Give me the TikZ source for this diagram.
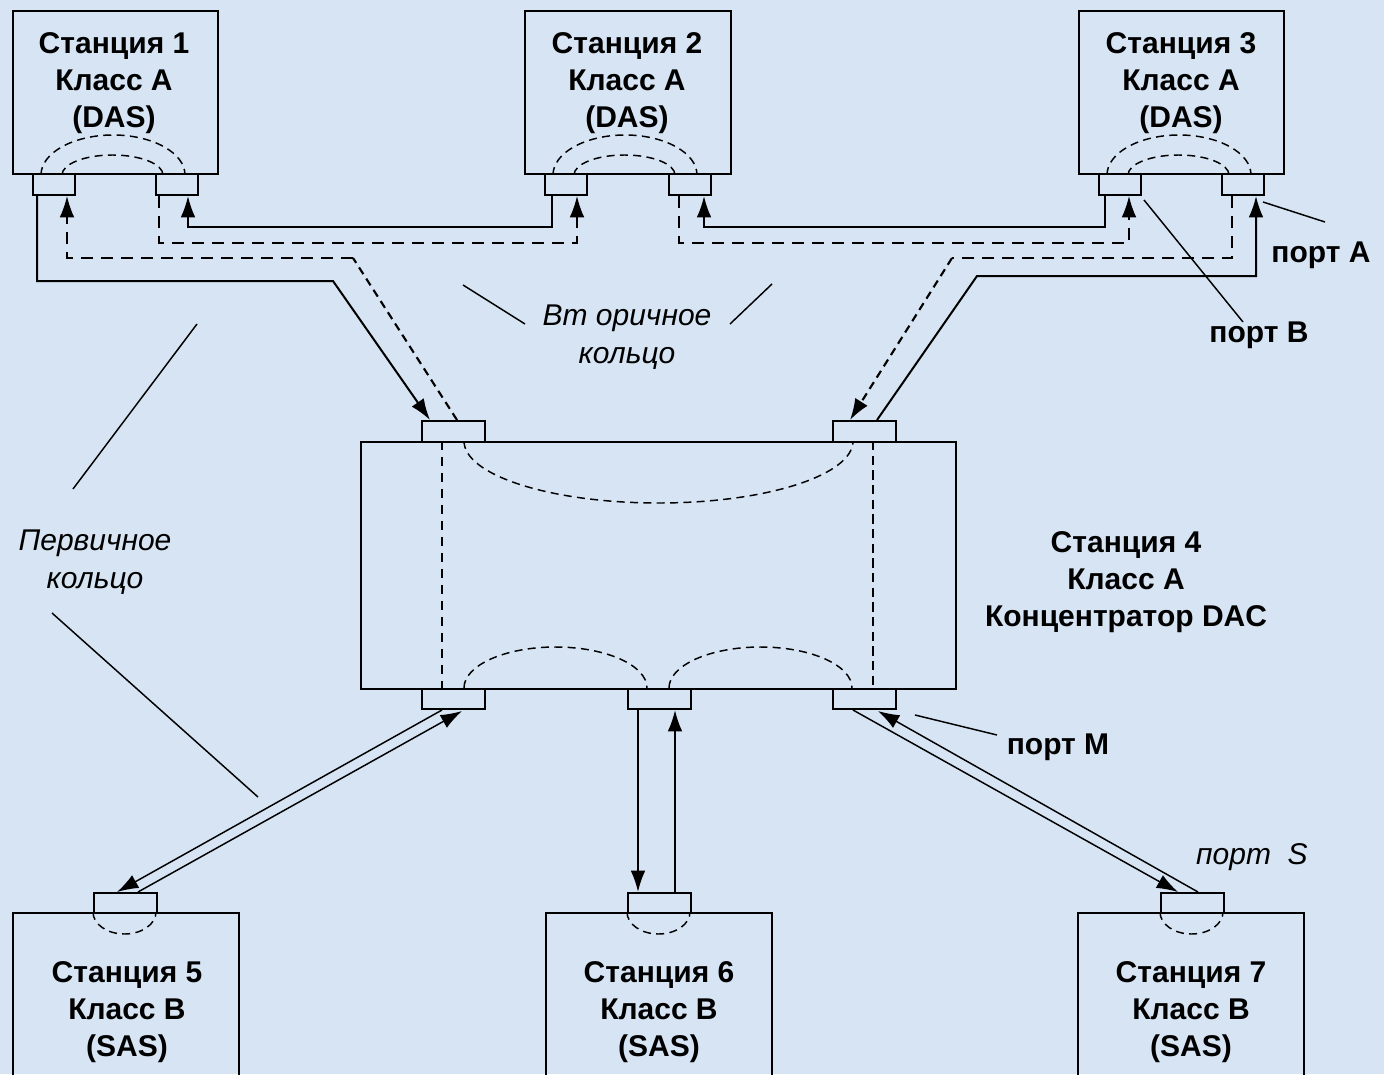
\documentclass[tikz,border=0pt]{standalone}
\usepackage{fontspec}
\setmainfont{Liberation Sans}
\usetikzlibrary{arrows.meta,calc}
\definecolor{bg}{RGB}{214,228,243}
\begin{document}
\begin{tikzpicture}[x=0.75pt,y=-0.75pt,
  sbox/.style 2 args={draw,line width=1.5pt,minimum width={#1*0.75pt},minimum height={#2*0.75pt},inner sep=0pt,anchor=north west},
  sport/.style={draw,fill=bg,line width=1.5pt,minimum width={42*0.75pt},minimum height={21*0.75pt},inner sep=0pt,anchor=north west},
  lport/.style={draw,fill=bg,line width=1.5pt,minimum width={63*0.75pt},minimum height={20*0.75pt},inner sep=0pt,anchor=north west},
  lbl/.style={font=\bfseries\fontsize{22.5}{27.75}\selectfont,align=center,inner sep=0pt},
  ilbl/.style={font=\itshape\fontsize{22.5}{28.5}\selectfont,align=center,inner sep=0pt},
  pri/.style={line width=1.5pt},
  sec/.style={line width=1.2pt,dash pattern=on 9pt off 6pt},
  secb/.style={line width=1.6pt,dash pattern=on 6pt off 4pt},
  arcd/.style={line width=1.1pt,dash pattern=on 6pt off 4pt},
  thinln/.style={line width=1.1pt},
  ptr/.style={line width=1.1pt},
  arr/.style={-{Latex[length=16pt,width=11pt]}},
]
\useasboundingbox (0,0) rectangle (1384,1074);
\fill[bg] (0,0) rectangle (1384,1074);
\clip (0,0) rectangle (1384,1074);

% station boxes
\node[sbox={205}{163}] (s1) at (12,10) {};
\node[sbox={206}{163}] (s2) at (524,10) {};
\node[sbox={205}{163}] (s3) at (1078,10) {};
\node[sbox={595}{247}] (s4) at (360,441) {};
\node[sbox={226}{250}] (s5) at (12,912) {};
\node[sbox={226}{250}] (s6) at (545,912) {};
\node[sbox={226}{250}] (s7) at (1077,912) {};

% labels
\node[lbl] (t1) at (114,83) {Станция 1\\Класс А\\(DAS)};
\node[lbl] (t2) at (627,83) {Станция 2\\Класс А\\(DAS)};
\node[lbl] (t3) at (1181,83) {Станция 3\\Класс А\\(DAS)};
\node[lbl] (t4) at (1126,582) {Станция 4\\Класс А\\Концентратор DAC};
\node[lbl] (t5) at (127,1012) {Станция 5\\Класс В\\(SAS)};
\node[lbl] (t6) at (659,1012) {Станция 6\\Класс В\\(SAS)};
\node[lbl] (t7) at (1191,1012) {Станция 7\\Класс В\\(SAS)};

% internal dashed paths
\draw[arcd] ($(s1.south west)+(29,0)$) arc[start angle=180,end angle=360,x radius=72,y radius=40];
\draw[arcd] ($(s1.south west)+(50,0)$) arc[start angle=180,end angle=360,x radius=50.5,y radius=20];
\draw[arcd] ($(s2.south west)+(29,0)$) arc[start angle=180,end angle=360,x radius=72,y radius=40];
\draw[arcd] ($(s2.south west)+(50,0)$) arc[start angle=180,end angle=360,x radius=50.5,y radius=20];
\draw[arcd] ($(s3.south west)+(29,0)$) arc[start angle=180,end angle=360,x radius=72,y radius=40];
\draw[arcd] ($(s3.south west)+(50,0)$) arc[start angle=180,end angle=360,x radius=50.5,y radius=20];

\draw[arcd] (464,441) arc[start angle=180,end angle=0,x radius=194.5,y radius=62];
\draw[arcd] (464,688) arc[start angle=180,end angle=360,x radius=91.5,y radius=41];
\draw[arcd] (669,688) arc[start angle=180,end angle=360,x radius=91.5,y radius=41];
\draw[line width=1.1pt,dash pattern=on 7pt off 5pt] (442,441) -- (442,688);
\draw[line width=1.5pt,dash pattern=on 7pt off 4pt] (873,441) -- (873,688);

\draw[arcd] ($(s5.north west)+(81,0)$) arc[start angle=180,end angle=0,x radius=31.5,y radius=22];
\draw[arcd] ($(s6.north west)+(82,0)$) arc[start angle=180,end angle=0,x radius=31.5,y radius=22];
\draw[arcd] ($(s7.north west)+(83,0)$) arc[start angle=180,end angle=0,x radius=31.5,y radius=22];

% ports
\node[sport] (p1l) at (32,173) {};
\node[sport] (p1r) at (155,173) {};
\node[sport] (p2l) at (544,173) {};
\node[sport] (p2r) at (668,173) {};
\node[sport] (p3l) at (1098,173) {};
\node[sport] (p3r) at (1221,173) {};
\node[lport,minimum height={21*0.75pt}] (t4l) at (421,420) {};
\node[lport,minimum height={21*0.75pt}] (t4r) at (832,420) {};
\node[lport] (b4l) at (421,688) {};
\node[lport] (b4m) at (627,688) {};
\node[lport] (b4r) at (832,688) {};
\node[lport] (p5) at (93,892) {};
\node[lport] (p6) at (627,892) {};
\node[lport] (p7) at (1160,892) {};

% primary ring (solid)
\draw[pri,arr] ($(p1l.south west)+(5,0)$) |- (333,281) -- ($(t4l.north west)+(9,0)$);
\draw[pri,arr] ($(p2l.south west)+(8,0)$) |- ($(p1r.south west)+(33,31)$) -- ($(p1r.south west)+(33,0)$);
\draw[pri,arr] ($(p3l.south west)+(7,0)$) |- ($(p2r.south west)+(36,31)$) -- ($(p2r.south west)+(36,0)$);
\draw[pri,arr] ($(t4r.north west)+(45,0)$) -- (977,276) -| ($(p3r.south west)+(35,0)$);

% secondary ring (dashed)
\coordinate (c5) at (353,258);
\coordinate (c8) at (952,258);
\draw[secb] ($(t4l.north west)+(36,0)$) -- (c5);
\draw[sec,arr] (c5) -| ($(p1l.south west)+(35,0)$);
\draw[sec,arr] ($(p1r.south west)+(4,0)$) |- ($(p2l.south west)+(33,47)$) -- ($(p2l.south west)+(33,0)$);
\draw[sec,arr] ($(p2r.south west)+(11,0)$) |- ($(p3l.south west)+(31,47)$) -- ($(p3l.south west)+(31,0)$);
\draw[sec] ($(p3r.south west)+(11,0)$) |- (c8);
\draw[secb,arr] (c8) -- ($(t4r.north west)+(18,0)$);

% links to SAS stations
\draw[thinln,arr] ($(b4l.south west)+(21,0)$) -- ($(p5.north west)+(24,0)$);
\draw[thinln,arr] ($(p5.north west)+(45,0)$) -- ($(b4l.south west)+(41,1)$);
\draw[pri,arr] ($(b4m.south west)+(11,0)$) -- ($(p6.north west)+(11,0)$);
\draw[pri,arr] ($(p6.north west)+(48,0)$) -- ($(b4m.south west)+(48,0)$);
\draw[thinln,arr] ($(b4r.south west)+(21,0)$) -- ($(p7.north west)+(18,0)$);
\draw[thinln,arr] ($(p7.north west)+(38,0)$) -- ($(b4r.south west)+(46,1)$);

% annotations
\node[lbl] (la) at (1321,255) {порт А};
\node[lbl] (lb) at (1259,335) {порт В};
\node[lbl] (lm) at (1058,747) {порт М};
\node[ilbl] (ls) at (1252,857) {порт\ \ S};
\node[ilbl] (l2) at (627,337) {Вт оричное\\кольцо};
\node[ilbl] (l1) at (95,562) {Первичное\\кольцо};

\coordinate (qa1) at (1263,202); \coordinate (qa2) at (1325,222);
\coordinate (qb1) at (1144,200); \coordinate (qb2) at (1243,322);
\coordinate (qm1) at (915,715);  \coordinate (qm2) at (997,735);
\coordinate (q21) at (463,285);  \coordinate (q22) at (525,324);
\coordinate (q23) at (772,284);  \coordinate (q24) at (730,324);
\coordinate (q11) at (197,324);  \coordinate (q12) at (73,489);
\coordinate (q13) at (52,613);   \coordinate (q14) at (258,797);
\draw[ptr] (qa1) -- (qa2);
\draw[ptr] (qb1) -- (qb2);
\draw[ptr] (qm1) -- (qm2);
\draw[ptr] (q21) -- (q22);
\draw[ptr] (q23) -- (q24);
\draw[ptr] (q11) -- (q12);
\draw[ptr] (q13) -- (q14);
\end{tikzpicture}
\end{document}
